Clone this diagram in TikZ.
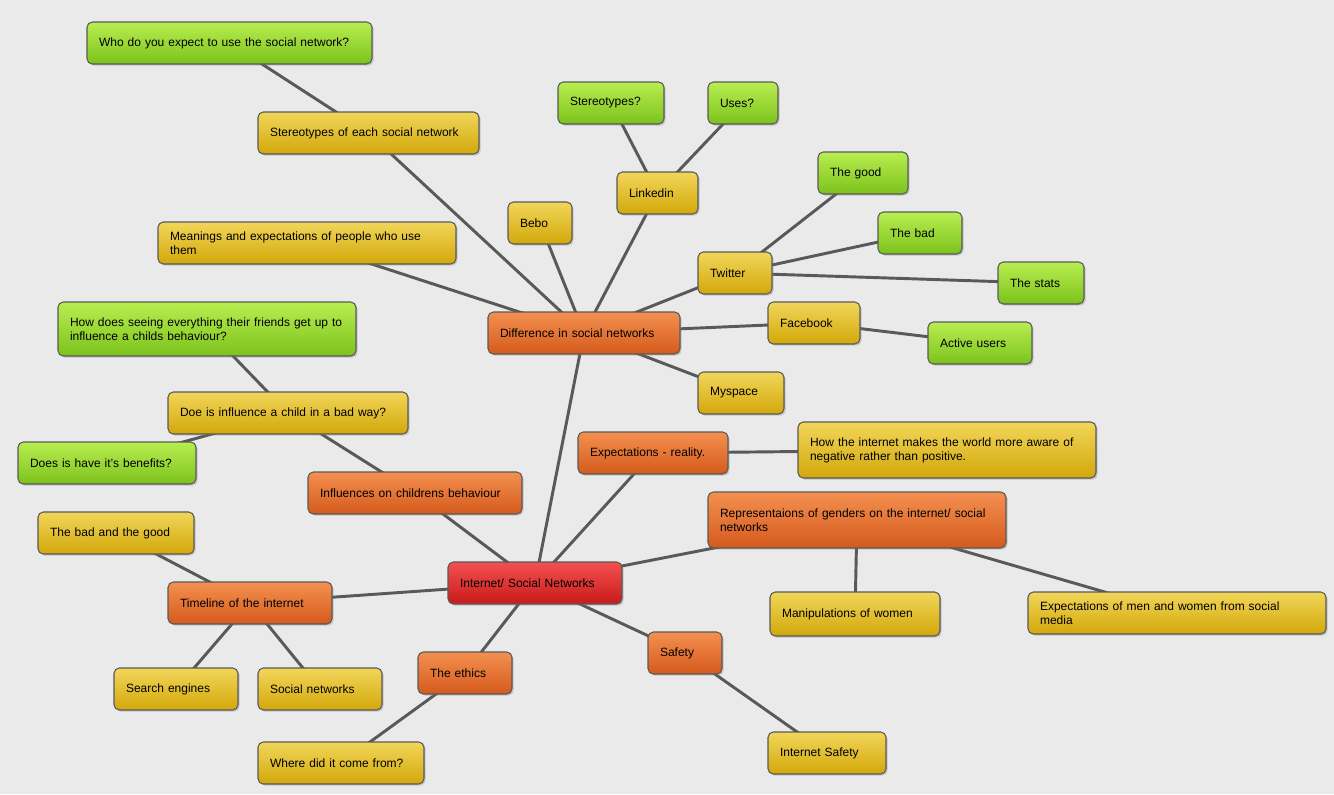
\documentclass[tikz,border=0pt]{standalone}
\usepackage{fontspec}
\setmainfont{Liberation Sans}
\usetikzlibrary{shadows,backgrounds}
\hyphenpenalty=10000
\exhyphenpenalty=10000
\definecolor{bg}{HTML}{EAEAEA}
\definecolor{gtop}{HTML}{B8EE50}
\definecolor{gbot}{HTML}{7CC21C}
\definecolor{ytop}{HTML}{F2D65A}
\definecolor{ybot}{HTML}{D2A80A}
\definecolor{otop}{HTML}{F49050}
\definecolor{obot}{HTML}{D45A1C}
\definecolor{rtop}{HTML}{F45050}
\definecolor{rbot}{HTML}{C81A1A}
\tikzset{
 box/.style={draw=black!65,line width=0.8pt,rounded corners=4pt,align=left,inner sep=0pt,
   font=\fontsize{9}{10.5}\selectfont,
   drop shadow={shadow xshift=1.2pt,shadow yshift=-1.2pt,opacity=0.35}},
 gbox/.style={box,top color=gtop,bottom color=gbot},
 ybox/.style={box,top color=ytop,bottom color=ybot},
 obox/.style={box,top color=otop,bottom color=obot},
 rbox/.style={box,top color=rtop,bottom color=rbot},
 link/.style={draw=black!65,line width=2.2pt},
}
\newcommand\bx[7]{\node[#6,minimum width={(#4-#2)*0.75pt},minimum height={(#5-#3)*0.75pt},text width={(#4-#2-24)*0.75pt}] (#1) at ({(#2+#4)/2+2},{(#3+#5)/2}) {\hyphenpenalty=10000 #7};}
\begin{document}
\begin{tikzpicture}[x=0.75pt,y=-0.75pt]
\useasboundingbox (0,0) rectangle (1334,794);
\bx{n1}{85}{22}{370}{64}{gbox}{Who do you expect to use the social network?}
\bx{n2}{256}{112}{477}{154}{ybox}{Stereotypes of each social network}
\bx{n3}{556}{82}{662}{124}{gbox}{Stereotypes?}
\bx{n4}{706}{82}{776}{124}{gbox}{Uses?}
\bx{n5}{615}{172}{696}{214}{ybox}{Linkedin}
\bx{n6}{816}{152}{906}{194}{gbox}{The good}
\bx{n7}{506}{202}{570}{244}{ybox}{Bebo}
\bx{n8}{876}{212}{960}{254}{gbox}{The bad}
\bx{n9}{156}{222}{454}{264}{ybox}{Meanings and expectations of people who use them}
\bx{n10}{696}{252}{770}{294}{ybox}{Twitter}
\bx{n11}{996}{262}{1082}{304}{gbox}{The stats}
\bx{n12}{56}{302}{354}{356}{gbox}{How does seeing everything their friends get up to influence a childs behaviour?}
\bx{n13}{486}{312}{678}{354}{obox}{Difference in social networks}
\bx{n14}{766}{302}{858}{344}{ybox}{Facebook}
\bx{n15}{926}{322}{1030}{364}{gbox}{Active users}
\bx{n16}{696}{372}{782}{414}{ybox}{Myspace}
\bx{n17}{166}{392}{406}{434}{ybox}{Doe is influence a child in a bad way?}
\bx{n18}{16}{442}{194}{484}{gbox}{Does is have it's benefits?}
\bx{n19}{576}{432}{726}{474}{obox}{Expectations - reality.}
\bx{n20}{796}{422}{1094}{478}{ybox}{How the internet makes the world more aware of negative rather than positive.}
\bx{n21}{306}{472}{520}{514}{obox}{Influences on childrens behaviour}
\bx{n22}{706}{492}{1004}{548}{obox}{Representaions of genders on the internet/ social networks}
\bx{n23}{36}{512}{192}{554}{ybox}{The bad and the good}
\bx{n24}{446}{562}{620}{604}{rbox}{Internet/ Social Networks}
\bx{n25}{166}{582}{330}{624}{obox}{Timeline of the internet}
\bx{n26}{768}{592}{938}{636}{ybox}{Manipulations of women}
\bx{n27}{1026}{592}{1324}{634}{ybox}{Expectations of men and women from social media}
\bx{n28}{646}{632}{720}{674}{obox}{Safety}
\bx{n29}{416}{652}{510}{694}{obox}{The ethics}
\bx{n30}{112}{668}{236}{710}{ybox}{Search engines}
\bx{n31}{256}{668}{380}{710}{ybox}{Social networks}
\bx{n32}{256}{742}{422}{784}{ybox}{Where did it come from?}
\bx{n33}{766}{732}{884}{774}{ybox}{Internet Safety}
\begin{scope}[on background layer]
\fill[bg] (0,0) rectangle (1334,794);
\foreach \a/\b in {n24/n13,n24/n19,n24/n22,n24/n21,n24/n25,n24/n29,n24/n28,
 n13/n2,n2/n1,n13/n9,n13/n7,n13/n5,n5/n3,n5/n4,n13/n10,n10/n6,n10/n8,n10/n11,
 n13/n14,n14/n15,n13/n16,n21/n17,n17/n12,n17/n18,n19/n20,n22/n26,n22/n27,
 n25/n23,n25/n30,n25/n31,n29/n32,n28/n33}
 \draw[link] (\a.center) -- (\b.center);
\end{scope}
\end{tikzpicture}
\end{document}
